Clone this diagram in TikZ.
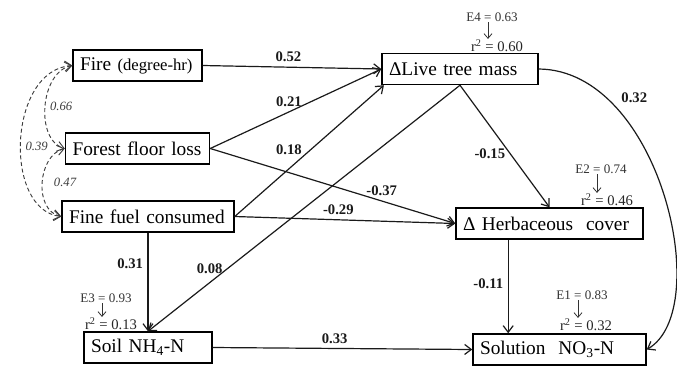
\documentclass[tikz,border=0pt]{standalone}
\usepackage{fontspec}
\setmainfont{Liberation Serif}
\usetikzlibrary{arrows.meta, positioning, calc}
\definecolor{pathInk}{HTML}{1A1A1A}
\definecolor{corrInk}{HTML}{3C3C3C}

\begin{document}
\begin{tikzpicture}[
    x=0.75pt, y=-0.75pt,
    >={Straight Barb[length=5pt, width=7.5pt]},
    var/.style={
        draw=black,
        line width=1.1pt,
        text width=#1,
        align=left,
        inner xsep=5.25pt,
        inner ysep=2pt,
        minimum height=23.25pt,
        font=\fontsize{14.5}{17}\selectfont
    },
    arrow/.style={->, line width=0.9pt, draw=pathInk},
    corr/.style={<->, line width=0.7pt, draw=corrInk, dash pattern=on 3pt off 2pt},
    coef/.style={font=\fontsize{11}{13}\selectfont\bfseries, text=pathInk},
    corrlab/.style={font=\fontsize{9.5}{11}\selectfont\itshape, text=corrInk},
    err/.style={font=\fontsize{9.8}{11}\selectfont, text=black!80, inner sep=0.5pt},
    rsq/.style={font=\fontsize{11}{13}\selectfont, text=black!85, inner sep=0.5pt},
    errarrow/.style={-{Straight Barb[length=3.5pt, width=6pt]}, line width=0.6pt, draw=black!80},
]
\useasboundingbox (0,0) rectangle (677,369);

% exogenous fire variables
\node[var=86.25pt] (fire) at (137.5,65.5)
    {Fire {\fontsize{12.5}{15}\selectfont(degree-hr)}};
\node[var=97.5pt] (floor) at (137.5,148.5) {\mbox{Forest floor loss}};
\node[var=118.5pt] (fuel) at (148,216.5) {Fine fuel consumed};

% responses
\node[var=106.5pt] (live) at (460,69) {ΔLive tree mass};
\node[var=129.75pt] (herb) at (549.5,223.5) {Δ Herbaceous\ \ cover};
\node[var=85.5pt] (soil) at (148,347.5) {Soil NH\textsubscript{4}-N};
\node[var=119.25pt] (nitrate) at (559.5,349.5) {Solution\ \ NO\textsubscript{3}-N};

% error terms and r^2
\node[err] (e4) at (492,17) {E4 = 0.63};
\node[rsq] (r4) at (497,46) {r\textsuperscript{2} = 0.60};
\node[err] (e2) at (601,169) {E2 = 0.74};
\node[rsq] (r2) at (607,200) {r\textsuperscript{2} = 0.46};
\node[err] (e1) at (582,295) {E1 = 0.83};
\node[rsq] (r1) at (586,325) {r\textsuperscript{2} = 0.32};
\node[err] (e3) at (106,298) {E3 = 0.93};
\node[rsq] (r3) at (111,324) {r\textsuperscript{2} = 0.13};

\foreach \e/\r in {e4/r4, e2/r2, e1/r1, e3/r3}
    \draw[errarrow] ([xshift=-3pt]\e.south) -- ([xshift=-3pt]\e.south |- \r.north);

% correlations among fire variables
\draw[corr] (fire.west) .. controls (40,72) and (35,140) .. (floor.west)
    node[corrlab, pos=0.5, right] {0.66};
\draw[corr] (floor.west) .. controls (38,155) and (33,210) .. (fuel.west)
    node[corrlab, pos=0.5, right=5pt] {0.47};
\draw[corr] (fire.west) .. controls (8,70) and (3,210) .. (fuel.west)
    node[corrlab, pos=0.53, right] {0.39};

% path coefficients
\draw[arrow] (fire.east) -- (live.west)
    node[coef, pos=0.48, above] {0.52};
\draw[arrow] (floor.east) -- (live.west)
    node[coef, pos=0.46, above] {0.21};
\draw[arrow] (fuel.east) -- ([xshift=2pt]live.south west)
    node[coef, pos=0.51, left=3pt] {0.18};
\draw[arrow] (floor.east) -- (herb.west)
    node[coef, pos=0.7, above] {-0.37};
\draw[arrow] (fuel.east) -- (herb.west)
    node[coef, pos=0.47, above] {-0.29};
\draw[arrow] (live.south) -- (soil.north)
    node[coef, pos=0.745, left] {0.08};
\draw[arrow] (fuel.south) -- (soil.north)
    node[coef, pos=0.31, left] {0.31};
\draw[arrow] (live.south) -- (herb.north)
    node[coef, pos=0.56, left] {-0.15};
\draw[arrow] ([xshift=-31pt]herb.south) -- ([xshift=-31pt]herb.south |- nitrate.north)
    node[coef, pos=0.47, left] {-0.11};
\draw[arrow] (soil.east) -- (nitrate.west)
    node[coef, pos=0.47, above] {0.33};
\draw[arrow] (live.east) .. controls (660,70) and (715,310) .. (nitrate.east)
    node[coef, pos=0.25, above right] {0.32};

\end{tikzpicture}
\end{document}
